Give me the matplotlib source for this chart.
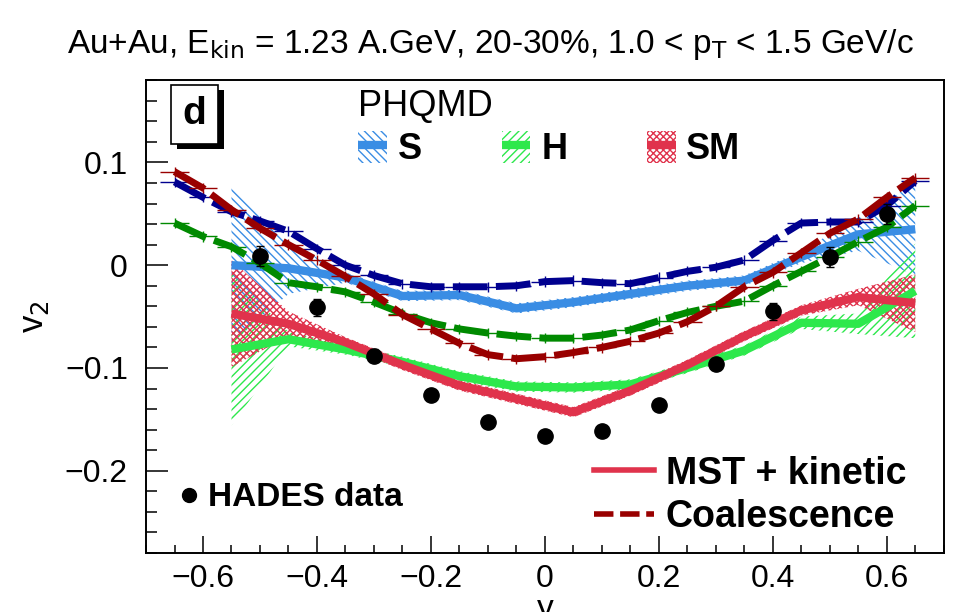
import numpy as np
import matplotlib.pyplot as plt
from matplotlib.patches import Patch
from matplotlib.lines import Line2D
from matplotlib.legend_handler import HandlerTuple
from matplotlib.ticker import MultipleLocator
import matplotlib.patheffects as pe

plt.rcParams['font.family'] = ['Liberation Sans', 'DejaVu Sans']
plt.rcParams['hatch.linewidth'] = 1.0

# HADES data
hades_y = [-0.5, -0.4, -0.3, -0.2, -0.1, 0.0, 0.1, 0.2, 0.3, 0.4, 0.5, 0.6]
hades_v2 = [0.009, -0.041, -0.088, -0.126, -0.153, -0.166, -0.161, -0.136, -0.096, -0.045, 0.008, 0.050]
hades_err = [0.010, 0.008, 0.006, 0.004, 0.004, 0.004, 0.004, 0.004, 0.006, 0.008, 0.010, 0.010]

# PHQMD, MST + kinetic (bands)
band_y = [-0.55, -0.45, -0.35, -0.25, -0.15, -0.05, 0.05, 0.15, 0.25, 0.35, 0.45, 0.55, 0.65]
s_v2 = [0.0, -0.003, -0.012, -0.030, -0.029, -0.042, -0.036, -0.028, -0.020, -0.015, 0.008, 0.030, 0.035]
s_err = [0.076, 0.025, 0.005, 0.005, 0.005, 0.005, 0.005, 0.005, 0.005, 0.005, 0.006, 0.016, 0.045]
h_v2 = [-0.082, -0.072, -0.082, -0.094, -0.108, -0.118, -0.119, -0.116, -0.100, -0.083, -0.056, -0.057, -0.025]
h_err = [0.074, 0.007, 0.005, 0.005, 0.005, 0.005, 0.005, 0.005, 0.005, 0.005, 0.006, 0.010, 0.046]
sm_v2 = [-0.047, -0.057, -0.075, -0.097, -0.117, -0.130, -0.143, -0.122, -0.097, -0.069, -0.044, -0.031, -0.037]
sm_err = [0.052, 0.012, 0.005, 0.005, 0.005, 0.005, 0.005, 0.005, 0.005, 0.005, 0.005, 0.008, 0.028]

# PHQMD, coalescence
coal_y = [-0.65, -0.60, -0.55, -0.50, -0.45, -0.40, -0.35, -0.30, -0.25, -0.20, -0.15, -0.10, -0.05, 0.0,
          0.05, 0.10, 0.15, 0.20, 0.25, 0.30, 0.35, 0.40, 0.45, 0.50, 0.55, 0.60, 0.65]
s_coal = [0.081, 0.066, 0.052, 0.043, 0.033, 0.016, 0.0, -0.010, -0.018, -0.021, -0.021, -0.021, -0.020, -0.016,
          -0.015, -0.017, -0.018, -0.012, -0.006, -0.002, 0.005, 0.024, 0.041, 0.042, 0.042, 0.058, 0.082]
h_coal = [0.041, 0.028, 0.018, 0.002, -0.017, -0.021, -0.026, -0.036, -0.047, -0.056, -0.062, -0.066, -0.069, -0.071,
          -0.071, -0.068, -0.063, -0.054, -0.046, -0.040, -0.035, -0.020, -0.006, 0.008, 0.023, 0.037, 0.058]
sm_coal = [0.091, 0.075, 0.054, 0.036, 0.020, 0.005, -0.011, -0.028, -0.048, -0.062, -0.076, -0.087, -0.091, -0.089,
           -0.085, -0.080, -0.074, -0.066, -0.055, -0.040, -0.021, -0.007, 0.012, 0.031, 0.045, 0.066, 0.085]

c_s, c_h, c_sm = '#3a8de4', '#2de84c', '#e0334c'
d_s, d_h, d_sm = '#00008f', '#008a00', '#990000'

fig = plt.figure(figsize=(9.8, 6.12), dpi=100)
ax = fig.add_axes([0.149, 0.0964, 0.814, 0.7726])

# bands with hatch + thick centre line
for v, e, col, hatch in [(s_v2, s_err, c_s, '\\\\\\\\'), (h_v2, h_err, c_h, '////'), (sm_v2, sm_err, c_sm, 'xxxxx')]:
    v = np.array(v)
    e = np.array(e)
    ax.fill_between(band_y, v - e, v + e, facecolor='none', edgecolor=col, hatch=hatch, linewidth=0)
    ax.plot(band_y, v, color=col, lw=6, solid_capstyle='butt')

# coalescence dashed lines with error crosses
for v, col in [(s_coal, d_s), (h_coal, d_h), (sm_coal, d_sm)]:
    ax.plot(coal_y, v, color=col, lw=5, dashes=(5, 1.2))
    ax.errorbar(coal_y, v, xerr=0.025, yerr=0.005, fmt='none', ecolor=col, elinewidth=1, capsize=0)

ax.errorbar(hades_y, hades_v2, yerr=hades_err, fmt='o', color='black', ms=11, elinewidth=1.2, capsize=3, zorder=5)

ax.set_xlim(-0.7, 0.7)
ax.set_ylim(-0.28, 0.18)
ax.xaxis.set_major_locator(MultipleLocator(0.2))
ax.xaxis.set_minor_locator(MultipleLocator(0.05))
ax.yaxis.set_major_locator(MultipleLocator(0.1))
ax.yaxis.set_minor_locator(MultipleLocator(0.02))
ax.tick_params(which='both', direction='in', top=False, right=False, width=1.1, labelsize=23)
ax.tick_params(axis='x', which='major', length=12, pad=8)
ax.tick_params(axis='x', which='minor', length=6)
ax.tick_params(axis='y', which='major', length=16, pad=13)
ax.tick_params(axis='y', which='minor', length=8)
fmt = plt.FuncFormatter(lambda x, p: '0' if abs(x) < 1e-9 else f'{x:.1f}'.replace('-', '\u2212'))
ax.xaxis.set_major_formatter(fmt)
ax.yaxis.set_major_formatter(fmt)
for sp in ax.spines.values():
    sp.set_linewidth(1.4)

ax.set_xlabel('y', fontsize=24, labelpad=0)
ax.set_ylabel('v$_2$', fontsize=25, labelpad=10)
ax.xaxis.set_label_coords(0.5, -0.086)

fig.text(0.5, 0.928, r'Au+Au, E$_{\rm kin}$ = 1.23 A.GeV, 20-30%, 1.0 < p$_{\rm T}$ < 1.5 GeV/c',
         ha='center', va='center', fontsize=24)

# panel label with shadow
t = ax.text(0.061, 0.928, 'd', transform=ax.transAxes, fontsize=28, fontweight='bold', ha='center', va='center',
            bbox=dict(boxstyle='square,pad=0.3', facecolor='white', edgecolor='black', linewidth=1.2))
t.get_bbox_patch().set_path_effects([pe.SimplePatchShadow(offset=(4, -4), shadow_rgbFace='black', alpha=1.0),
                                     pe.Normal()])

# PHQMD legend
handles = [(Patch(facecolor='none', edgecolor=c, hatch=h, linewidth=0),
            Line2D([], [], color=c, lw=6, solid_capstyle='butt'))
           for c, h in [(c_s, '\\\\\\\\'), (c_h, '////'), (c_sm, 'xxxxx')]]
leg1 = ax.legend(handles, ['S', 'H', 'SM'], handler_map={tuple: HandlerTuple(ndivide=1)}, ncol=3,
                 title='PHQMD', title_fontsize=26, alignment='left', prop={'weight': 'bold', 'size': 26},
                 loc='upper left', bbox_to_anchor=(0.266, 0.982), frameon=False, borderpad=0, borderaxespad=0,
                 handlelength=0.8, handleheight=1.0, columnspacing=2.2, handletextpad=0.3, labelspacing=0.2)
ax.add_artist(leg1)

leg2 = ax.legend([Line2D([], [], marker='o', ls='none', color='black', ms=10)], ['HADES data'],
                 loc='center left', bbox_to_anchor=(0.044, 0.117), frameon=False, borderpad=0, borderaxespad=0,
                 prop={'weight': 'bold', 'size': 24}, handlelength=0.5, handletextpad=0.3)
ax.add_artist(leg2)

ax.legend([Line2D([], [], color=c_sm, lw=4), Line2D([], [], color=d_sm, lw=4, dashes=(3.5, 1.2))],
          ['MST + kinetic', 'Coalescence'], loc='center left', bbox_to_anchor=(0.561, 0.122), frameon=False,
          borderpad=0, borderaxespad=0, prop={'weight': 'bold', 'size': 27}, handlelength=1.6,
          handletextpad=0.32, labelspacing=0.2)

fig.savefig('out.png', dpi=100)
